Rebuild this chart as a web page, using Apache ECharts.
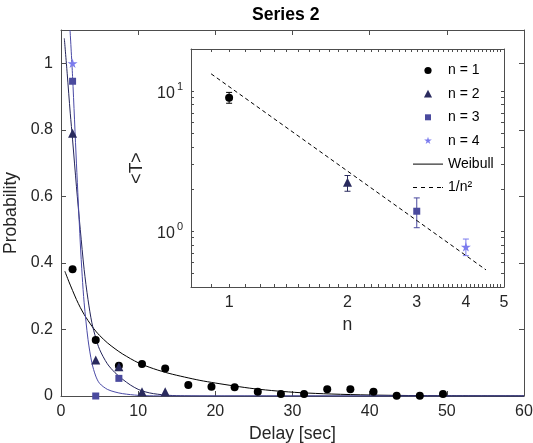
<!DOCTYPE html>
<html><head><meta charset="utf-8">
<script src="https://cdn.jsdelivr.net/npm/echarts@6/dist/echarts.min.js"></script>
<style>html,body{margin:0;padding:0;background:#fff}#c{width:533px;height:443px}</style>
</head><body><div id="c"></div>
<script>
// ---- main plot data ----
const delayN1 = [1.5,4.5,7.5,10.5,13.5,16.5,19.5,22.5,25.5,28.5,31.5,34.5,37.5,40.5,43.5,46.5,49.5];
const probN1  = [0.381,0.168,0.091,0.096,0.083,0.033,0.028,0.026,0.013,0.006,0.006,0.020,0.020,0.013,0.001,0.001,0.006];
const delayN2 = [1.5,4.5,7.5,10.5,13.5];
const probN2  = [0.79,0.108,0.088,0.013,0.013];
const delayN3 = [1.5,4.5,7.5];
const probN3  = [0.946,0.0,0.053];
const delayN4 = [1.5];
const probN4  = [1.0];
// Weibull fit curves
const fit1X = [0.5,1,1.5,2,2.5,3,3.5,4,4.5,5,6,7,8,10,12,14,16,18,20,22.5,25,28,31,35,40,45,50,60];
const fit1Y = [0.375,0.345,0.317,0.29,0.266,0.245,0.227,0.21,0.195,0.182,0.16,0.142,0.126,0.1,0.082,0.068,0.057,0.047,0.039,0.03,0.022,0.015,0.010,0.006,0.003,0.0015,0.0008,0.0002];
const fit2X = [0.43,0.8,1.2,1.5,2,2.5,3,3.5,4,4.5,5,6,7,8,9,10,11,12,14,16,20,60];
const fit2Y = [1.075,0.97,0.85,0.77,0.63,0.5,0.38,0.29,0.22,0.175,0.14,0.097,0.07,0.05,0.033,0.02,0.012,0.007,0.002,0.0005,0,0];
const fit3X = [1.17,1.5,2,2.5,2.75,3,3.5,4,4.5,5,6,7,8,10,12,15,60];
const fit3Y = [1.1,0.96,0.7,0.46,0.36,0.28,0.17,0.1,0.06,0.038,0.02,0.012,0.007,0.002,0.0005,0,0];
const mainYTicks = [0,0.2,0.4,0.6,0.8,1];
// ---- inset data ----
const insetN  = [1,2,3,4];
const insetT  = [8.97,2.24,1.39,0.774];
const insetLo = [8.2,1.93,1.06,0.67];
const insetHi = [9.8,2.5,1.73,0.88];
const refLineN = [0.9,4.5];
const refLineT = [13.3,0.53];
const insetXTicks = [1,2,3,4,5];
const insetXMinor = [0.8,0.9,1,1.1,1.2,1.3,1.4,1.5,1.6,1.7,1.8,1.9,2,2.1,2.2,2.3,2.4,2.5,2.6,2.7,2.8,2.9,3,3.1,3.2,3.3,3.4,3.5,3.6,3.7,3.8,3.9,4,4.1,4.2,4.3,4.4,4.5,4.6,4.7,4.8,4.9,5];
const insetYTicks = [1,10];
const insetYMinor = [0.4,0.5,0.6,0.7,0.8,0.9,1,2,3,4,5,6,7,8,9,10,20];

const names = ['n = 1','n = 2','n = 3','n = 4'];
const colors = ['#000000','#2a2b5e','#4a4a9e','#7b7bee'];
const STAR = 'path://M50,0 L61,35 L98,35 L68,57 L79,91 L50,70 L21,91 L32,57 L2,35 L39,35 Z';
const symbols = ['circle','triangle','rect',STAR];
const symSizes = [8,9,7,10];
const legendIcons = ['path://M0,0M10,10M1,5a4,4 0 1,0 8,0a4,4 0 1,0 -8,0z',
                     'path://M0,0M10,10M5,0.5L9.5,9L0.5,9Z',
                     'path://M0,0M12,12M2,2h8v8h-8z',
                     'path://M-6,-6M106,106M50,0 L61,35 L98,35 L68,57 L79,91 L50,70 L21,91 L32,57 L2,35 L39,35 Z'];

const FONT = 'Liberation Sans, Arial, Helvetica, sans-serif';
const L = v => Math.log10(v);
const zip = (a,b) => a.map((v,i)=>[v,b[i]]);
const axisCol = '#4d4d4d';
const txtCol = '#262626';

const mainPts = [zip(delayN1,probN1), zip(delayN2,probN2), zip(delayN3,probN3), zip(delayN4,probN4)];
const insetPts = insetN.map((n,i)=>[[L(n), L(insetT[i])]]);

function xAx(o){return Object.assign({type:'value',splitLine:{show:false},
  axisLine:{show:true,onZero:false,lineStyle:{color:axisCol,width:1}},
  axisTick:{show:true,inside:true,length:5,lineStyle:{color:axisCol}},
  axisLabel:{fontFamily:FONT,fontSize:16,color:txtCol,margin:8}},o);}

const series = [];
series.push({name:'Weibull',type:'line',xAxisIndex:0,yAxisIndex:0,data:zip(fit1X,fit1Y),smooth:0.3,symbol:'none',lineStyle:{color:'#000',width:1},itemStyle:{color:'#000'},z:3});
series.push({name:'fit2',type:'line',xAxisIndex:0,yAxisIndex:0,data:zip(fit2X,fit2Y),smooth:0.3,symbol:'none',lineStyle:{color:'#23245a',width:1},z:3});
series.push({name:'fit3',type:'line',xAxisIndex:0,yAxisIndex:0,data:zip(fit3X,fit3Y),smooth:0.3,symbol:'none',lineStyle:{color:'#4a4aa6',width:1},z:3});
mainPts.forEach((d,i)=>series.push({name:names[i],type:'scatter',xAxisIndex:0,yAxisIndex:0,data:d,
  symbol:symbols[i],symbolSize:symSizes[i],symbolKeepAspect:true,itemStyle:{color:colors[i],opacity:1},z:4}));
series.push({name:'1/n²',type:'line',xAxisIndex:2,yAxisIndex:2,data:zip(refLineN.map(L),refLineT.map(L)),
  symbol:'none',lineStyle:{color:'#000',width:1,type:[4,3]},itemStyle:{color:'#000'},z:6});
series.push({name:'err',type:'custom',xAxisIndex:2,yAxisIndex:2,z:6,
  data:insetN.map((n,i)=>[L(n),L(insetLo[i]),L(insetHi[i]),i]),
  renderItem:function(params,api){
    const x=api.value(0), lo=api.value(1), hi=api.value(2), k=api.value(3);
    const p1=api.coord([x,lo]), p2=api.coord([x,hi]); const w=3;
    const st={stroke:colors[k],lineWidth:1};
    return {type:'group',children:[
      {type:'line',shape:{x1:p1[0],y1:p1[1],x2:p2[0],y2:p2[1]},style:st},
      {type:'line',shape:{x1:p1[0]-w,y1:p1[1],x2:p1[0]+w,y2:p1[1]},style:st},
      {type:'line',shape:{x1:p2[0]-w,y1:p2[1],x2:p2[0]+w,y2:p2[1]},style:st}]};
  }});
insetPts.forEach((d,i)=>series.push({name:names[i],type:'scatter',xAxisIndex:2,yAxisIndex:2,data:d,
  symbol:symbols[i],symbolSize:symSizes[i],symbolKeepAspect:true,itemStyle:{color:colors[i],opacity:1},z:7}));

const legendData = names.map((n,i)=>({name:n,icon:legendIcons[i],itemStyle:{color:colors[i]}}))
  .concat([{name:'Weibull',icon:'path://M0,0h30v1h-30z',itemStyle:{color:'#000'}},
           {name:'1/n²',icon:'path://M0,0h4v1h-4zM8,0h4v1h-4zM16,0h4v1h-4zM24,0h4v1h-4zM29,0h1v1h-1z',itemStyle:{color:'#000'}}]);

const option = {
  backgroundColor:'#fff',
  animation:false,
  title:{text:'Series 2',left:252,top:6,padding:0,textStyle:{fontFamily:FONT,fontSize:17.6,fontWeight:'bold',color:'#000'}},
  legend:{orient:'vertical',left:413,top:63.5,padding:0,itemWidth:30,itemHeight:9,itemGap:9.4,selectedMode:false,z:10,
    symbolKeepAspect:true,data:legendData,
    textStyle:{fontFamily:FONT,fontSize:14,color:'#000'}},
  grid:[
    {left:61,top:30,right:9,bottom:47,show:false,outerBoundsMode:'none',containLabel:false},
    {left:191,top:49,width:313,height:238,show:true,backgroundColor:'#fff',borderWidth:0,z:5,outerBoundsMode:'none',containLabel:false}
  ],
  xAxis:[
    xAx({gridIndex:0,min:0,max:60,interval:10,position:'bottom',name:'Delay [sec]',nameLocation:'middle',nameGap:27,
      nameTextStyle:{fontFamily:FONT,fontSize:17.6,color:txtCol}}),
    xAx({gridIndex:0,min:0,max:60,interval:10,position:'top',axisLabel:{show:false}}),
    xAx({gridIndex:1,min:L(0.8),max:L(5),position:'bottom',z:6,name:'n',nameLocation:'middle',nameGap:28,
      nameTextStyle:{fontFamily:FONT,fontSize:17.6,color:txtCol},
      axisTick:{show:true,inside:true,length:3,customValues:insetXMinor.map(L),lineStyle:{color:axisCol}},
      axisLabel:{fontFamily:FONT,fontSize:16,color:txtCol,margin:8,customValues:insetXTicks.map(L),
        formatter:v=>String(Math.round(Math.pow(10,v)))}}),
    xAx({gridIndex:1,min:L(0.8),max:L(5),position:'top',z:6,
      axisTick:{show:true,inside:true,length:3,customValues:insetXMinor.map(L),lineStyle:{color:axisCol}},
      axisLabel:{show:false}})
  ],
  yAxis:[
    xAx({gridIndex:0,min:0,max:1.1,position:'left',name:'Probability',nameLocation:'middle',nameGap:34,
      nameTextStyle:{fontFamily:FONT,fontSize:17.6,color:txtCol},
      axisTick:{show:true,inside:true,length:5,customValues:mainYTicks,lineStyle:{color:axisCol}},
      axisLabel:{fontFamily:FONT,fontSize:16,color:txtCol,margin:8,customValues:mainYTicks}}),
    xAx({gridIndex:0,min:0,max:1.1,position:'right',
      axisTick:{show:true,inside:true,length:5,customValues:mainYTicks,lineStyle:{color:axisCol}},
      axisLabel:{show:false}}),
    xAx({gridIndex:1,min:L(0.4),max:L(20),position:'left',z:6,name:'<T>',nameLocation:'middle',nameGap:35,
      nameTextStyle:{fontFamily:FONT,fontSize:17.6,color:txtCol},
      axisTick:{show:true,inside:true,length:3,customValues:insetYMinor.map(L),lineStyle:{color:axisCol}},
      axisLabel:{fontFamily:FONT,color:txtCol,margin:8,customValues:insetYTicks.map(L),
        formatter:v=>'{b|10}{s|'+Math.round(v)+'}',
        rich:{b:{fontFamily:FONT,fontSize:16,color:txtCol,verticalAlign:'bottom',padding:[4,0,0,0]},
              s:{fontFamily:FONT,fontSize:11,color:txtCol,verticalAlign:'top',padding:[0,0,0,2]}}}}),
    xAx({gridIndex:1,min:L(0.4),max:L(20),position:'right',z:6,
      axisTick:{show:true,inside:true,length:3,customValues:insetYMinor.map(L),lineStyle:{color:axisCol}},
      axisLabel:{show:false}})
  ],
  series:series
};
const chart = echarts.init(document.getElementById('c'));
chart.setOption(option);
</script></body></html>
